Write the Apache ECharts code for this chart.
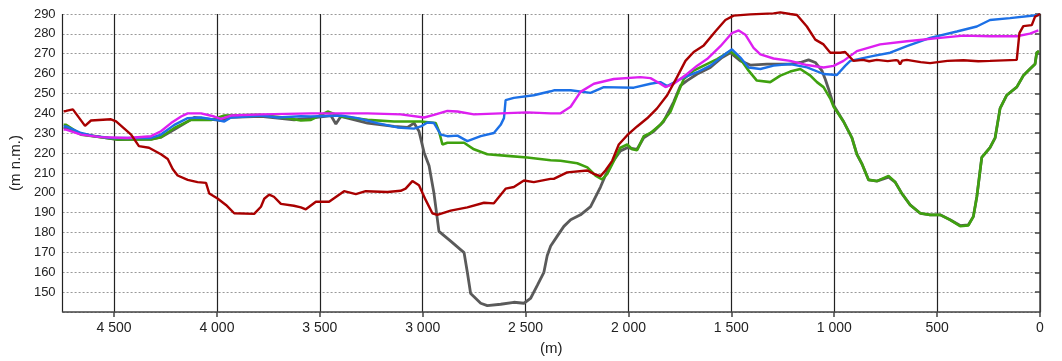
<!DOCTYPE html>
<html>
<head>
<meta charset="utf-8">
<script src="https://cdn.jsdelivr.net/npm/echarts@6/dist/echarts.min.js"></script>
<style>
html,body{margin:0;padding:0;background:#fff;}
#chart{width:1062px;height:361px;}
</style>
</head>
<body>
<div id="chart"></div>
<script>
// distance (m) / elevation (m n.m.) pairs
const redLine = [[4745,241],[4733,241.2],[4700,242],[4641,233.7],[4612,236.4],[4515,237],[4490,236],[4417,229.3],[4379,223.5],[4330,222.7],[4272,219.4],[4239,217],[4215,212],[4191,208.7],[4142,206.5],[4094,205.4],[4053,205],[4037,199.6],[3997,197.1],[3956,193.9],[3916,189.7],[3819,189.4],[3786,193],[3770,197],[3746,199.1],[3723,198],[3689,194.4],[3626,193.5],[3592,192.7],[3568,191.7],[3519,195.5],[3455,195.5],[3382,200.8],[3325,199.3],[3277,200.8],[3171,200.4],[3107,201],[3083,202.1],[3050,205.9],[3018,203.8],[2985,196.3],[2953,189.7],[2929,188.9],[2864,191],[2783,192.7],[2702,195],[2654,194.7],[2597,202.1],[2557,202.9],[2508,206.2],[2460,205.4],[2379,207],[2363,207],[2298,210.3],[2200,211.2],[2168,209.5],[2136,208.4],[2112,211.2],[2079,216.1],[2047,224.3],[2006,229],[1958,233.4],[1909,237.5],[1861,242.5],[1812,249.1],[1764,258.2],[1723,266.4],[1683,270.9],[1634,274.2],[1578,281.2],[1529,287],[1489,289.2],[1408,289.8],[1295,290.3],[1262,290.8],[1214,290],[1181,289.5],[1133,283.7],[1092,277.1],[1052,274.7],[1019,270.5],[971,270.5],[947,270.9],[922,268.1],[906,266.4],[860,266.9],[830,266.2],[793,266.9],[740,266.3],[700,266.8],[690,266.5],[680,264.6],[670,266.5],[647,266.9],[580,265.8],[534,265.3],[450,266.4],[372,266.7],[300,266.2],[243,266.4],[113,266.9],[100,280.4],[81,283.9],[40,284.4],[24,288.7],[8,289.5],[0,290]];
const grayLine = [[4745,233],[4660,229.5],[4563,228],[4482,226.8],[4320,227],[4272,228],[4207,231.8],[4110,237.9],[4029,237],[3980,236.5],[3932,238],[3786,238.5],[3705,237.6],[3625,236.7],[3543,237.6],[3446,238.9],[3422,234.6],[3398,238.4],[3268,235.1],[3139,233.4],[3074,232.9],[3042,235.1],[3034,236],[3018,231],[2993,220.2],[2969,213.6],[2945,199.6],[2921,180.6],[2864,175.7],[2799,169.9],[2783,160],[2767,149.3],[2718,144.4],[2686,143.2],[2621,143.9],[2557,144.9],[2508,144.4],[2476,146.8],[2443,153.4],[2411,160],[2395,168.3],[2378,173.2],[2346,178.2],[2314,183.1],[2281,186.4],[2233,188.9],[2184,193],[2160,198],[2136,202.9],[2112,208.7],[2079,215.3],[2039,221.1],[2006,222.7],[1958,221.9],[1926,227.7],[1877,231],[1829,235.9],[1780,245.8],[1747,254],[1715,256.5],[1666,259.8],[1602,263.1],[1545,268.1],[1505,270.5],[1456,266.4],[1408,264.3],[1327,264.8],[1214,264.8],[1165,265.6],[1125,266.9],[1092,265.6],[1060,261.5],[1044,257.3],[1028,252.4],[1003,244.1],[955,235.9],[914,227.7],[890,219.4],[865,214.5],[833,206.5],[793,205.9],[736,207.9],[704,205.4],[671,199.6],[631,193.9],[582,189.7],[534,188.9],[485,188.9],[437,186.4],[388,183.5],[348,183.9],[324,188],[307,198],[283,217.8],[243,222.7],[218,227.7],[194,242.5],[162,249.1],[113,253.2],[81,259],[49,262.3],[24,264.8],[16,270.5],[5,271.3]];
const greenLine = [[4745,234.2],[4733,234.2],[4660,229.3],[4563,228],[4482,226.8],[4320,226.8],[4272,228],[4207,232.6],[4126,236.7],[4029,236.7],[3964,238.9],[3786,239.2],[3657,237.6],[3592,236.4],[3543,236.7],[3462,240.9],[3398,238.4],[3268,236.7],[3139,235.9],[3058,235.9],[3009,235.9],[2937,235.1],[2921,231],[2904,224.3],[2880,225.2],[2799,225.2],[2751,221.9],[2686,219.4],[2589,218.6],[2492,217.8],[2378,216.4],[2330,216.1],[2249,214.9],[2200,212.8],[2160,208.7],[2128,206.7],[2103,209.5],[2071,216.1],[2039,222.7],[2006,224.3],[1982,221.9],[1958,221.4],[1926,228.5],[1893,230.1],[1845,234.2],[1796,240.8],[1764,249.1],[1731,257.3],[1683,261.5],[1634,264],[1569,267.3],[1505,271.3],[1456,267.3],[1416,261.5],[1376,256.5],[1311,255.7],[1262,259],[1214,261],[1165,262.3],[1116,259],[1084,255.7],[1052,253.2],[1019,247.4],[1003,243.3],[955,235.9],[914,227.7],[890,219.4],[865,214.5],[833,206.5],[793,205.9],[736,208.5],[704,205.4],[671,199.6],[631,193.9],[582,189.7],[534,188.9],[485,188.9],[437,186.4],[388,183.2],[348,183.6],[324,188],[307,198],[283,217.8],[243,222.7],[218,227.7],[194,242.5],[162,249.1],[113,253.2],[81,259],[49,262.3],[24,264.8],[16,270.5],[5,271.3]];
const blueLine = [[4745,233.4],[4733,233.4],[4660,230.1],[4595,228.5],[4514,227.6],[4320,227.6],[4272,229.3],[4207,234.2],[4142,237.6],[4077,237.9],[4005,236.7],[3964,235.9],[3932,237.9],[3786,238.9],[3705,237.9],[3592,238.5],[3543,238.4],[3398,238.9],[3317,237.6],[3220,235.1],[3123,232.9],[3042,232.3],[3009,233.4],[2977,235.4],[2945,235.1],[2912,229.3],[2880,228.5],[2831,228.8],[2783,226],[2718,228.5],[2654,230.1],[2621,234.2],[2605,237.6],[2597,246.6],[2557,247.8],[2460,249.1],[2378,251.1],[2362,251.6],[2281,251.6],[2184,250.3],[2120,253.2],[1974,252.9],[1893,254.9],[1845,255.7],[1812,253.7],[1747,257.3],[1666,260.7],[1602,264],[1521,270.5],[1497,272.2],[1456,268.1],[1416,263.1],[1359,262.3],[1295,264],[1214,264.8],[1132,263.1],[1052,259.8],[987,259.3],[947,263.9],[922,266.4],[809,268.9],[728,270.5],[647,273.8],[534,278],[404,281.2],[307,283.7],[243,287],[146,287.9],[8,289.5],[0,289.5]];
const magentaLine = [[4745,231.8],[4733,231.8],[4660,229.3],[4563,228],[4433,227.6],[4320,228.5],[4272,231],[4223,235.1],[4174,238.4],[4142,240],[4077,240],[4013,238.4],[3980,237.2],[3932,238.9],[3786,239.5],[3543,240],[3430,240],[3268,240],[3107,239.5],[2993,237.9],[2945,239.2],[2880,241.2],[2831,240.9],[2751,239.5],[2621,240],[2492,240.5],[2378,240],[2330,240],[2281,243.3],[2233,250.8],[2168,254.9],[2071,257.3],[1942,258.2],[1893,257.7],[1845,254.9],[1820,253.2],[1780,254.9],[1715,259.8],[1666,264],[1618,267.3],[1553,273.8],[1497,280.4],[1464,281.7],[1432,279.6],[1392,273],[1359,269.7],[1295,267.6],[1214,266.4],[1132,264.3],[1052,263.1],[1003,263.9],[955,266.4],[890,271.3],[777,274.7],[647,276.3],[485,278],[372,279.1],[243,278.8],[113,278.8],[49,280.1],[8,281.7]];

const xMin = 0, xMax = 4750, xStep = 500;
const yMin = 140, yMax = 290, yStep = 10;
const yAxisName = '(m n.m.)';
const xAxisName = '(m)';

const fmt = v => String(v).replace(/\B(?=(\d{3})+(?!\d))/g, ' ');

const chart = echarts.init(document.getElementById('chart'), null, {renderer: 'canvas'});
const mk = (data, color, w) => ({
  type: 'line', data: data, showSymbol: false, symbol: 'none', clip: false,
  lineStyle: {color: color, width: w}, itemStyle: {color: color}, animation: false
});
chart.setOption({
  animation: false,
  backgroundColor: '#ffffff',
  grid: {left: 62, right: 22, top: 14, bottom: 45, containLabel: false},
  xAxis: {
    type: 'value', inverse: true, min: xMin, max: xMax, interval: xStep,
    name: xAxisName, nameLocation: 'middle', nameGap: 29,
    nameTextStyle: {fontFamily: 'Liberation Sans', fontSize: 15, color: '#222', verticalAlign: 'top'},
    axisLine: {show: true, onZero: false, lineStyle: {color: '#444', width: 1.5}},
    axisTick: {show: true, length: 5, lineStyle: {color: '#444', width: 1.5}},
    axisLabel: {fontFamily: 'Liberation Sans', fontSize: 14, color: '#222', margin: 9, showMaxLabel: false,
      formatter: v => (v % xStep === 0 ? fmt(v) : '')},
    splitLine: {show: true, lineStyle: {color: '#222', width: 1.2, type: 'solid'}}
  },
  yAxis: {
    type: 'value', min: yMin, max: yMax, interval: yStep,
    name: yAxisName, nameLocation: 'middle', nameGap: 33, nameRotate: 90,
    nameTextStyle: {fontFamily: 'Liberation Sans', fontSize: 15, color: '#222'},
    axisLine: {show: true, lineStyle: {color: '#444', width: 1.5}},
    axisTick: {show: true, length: 5, lineStyle: {color: '#444', width: 1.5}},
    axisLabel: {fontFamily: 'Liberation Sans', fontSize: 13, color: '#222', margin: 7, showMinLabel: false},
    splitLine: {show: true, lineStyle: {color: '#999', width: 1, type: [2, 2]}}
  },
  series: [
    mk(grayLine, '#5a5a5a', 2.8),
    mk(greenLine, '#3fa10f', 2.6),
    mk(blueLine, '#1c70e6', 2.4),
    mk(magentaLine, '#dd1ff0', 2.4),
    mk(redLine, '#a80000', 2.4)
  ]
});
</script>
</body>
</html>
